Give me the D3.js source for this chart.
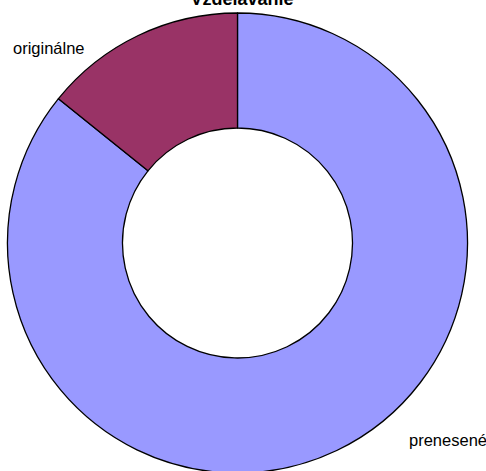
<!DOCTYPE html>
<html>
<head>
<meta charset="utf-8">
<script src="https://cdn.jsdelivr.net/npm/d3@7"></script>
<style>
  html, body { margin: 0; padding: 0; background: #fff; }
  svg { display: block; }
  text { font-family: "Liberation Sans", Arial, sans-serif; }
</style>
</head>
<body>
<svg id="chart" width="486" height="471"></svg>
<script>
// Share of content by origin
const categories = ["prenesené", "originálne"];
const values = [85.8, 14.2];
const colors = ["#9999FF", "#993366"];
const title = "Vzdelávanie";

const svg = d3.select("#chart");
const cx = 237.5, cy = 243;
const outerR = 230, innerR = 115;

const pie = d3.pie().sort(null).value(d => d.value);
const arcs = pie(categories.map((c, i) => ({ name: c, value: values[i], color: colors[i] })));
const arc = d3.arc().innerRadius(innerR).outerRadius(outerR);

const g = svg.append("g").attr("transform", `translate(${cx},${cy})`);

g.selectAll("path.slice")
  .data(arcs)
  .join("path")
  .attr("class", "slice")
  .attr("d", arc)
  .attr("fill", d => d.data.color)
  .attr("stroke", "#000")
  .attr("stroke-width", 1.3)
  .attr("stroke-linejoin", "round");

// Category labels, placed outside the ring
const labelPos = {
  "prenesené": { dx: 171.5, dy: 203 },
  "originálne": { dx: -224.5, dy: -189 }
};
g.selectAll("text.label")
  .data(arcs)
  .join("text")
  .attr("class", "label")
  .attr("x", d => labelPos[d.data.name].dx)
  .attr("y", d => labelPos[d.data.name].dy)
  .attr("text-anchor", "start")
  .attr("font-size", 16.5)
  .attr("fill", "#000")
  .text(d => d.data.name);

// Title, sitting against the top edge
svg.append("text")
  .attr("x", 242)
  .attr("y", 5)
  .attr("text-anchor", "middle")
  .attr("font-size", 18)
  .attr("font-weight", "bold")
  .attr("fill", "#000")
  .text(title);
</script>
</body>
</html>
